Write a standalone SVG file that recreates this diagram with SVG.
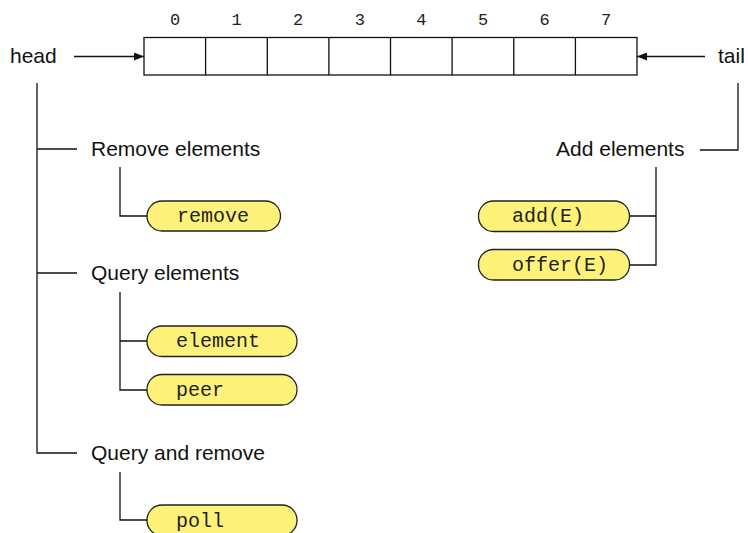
<svg xmlns="http://www.w3.org/2000/svg" width="748" height="533" viewBox="0 0 748 533">
<style>
.ln{fill:none;stroke:#111;stroke-width:1.3}
.sans{font-family:"Liberation Sans",Arial,sans-serif;font-size:21px;fill:#111}
.mono{font-family:"Liberation Mono","Courier New",monospace;fill:#222}
.idx{font-size:17px;text-anchor:middle}
.pill rect{fill:#FFF27A;stroke:#222;stroke-width:1.3}
.pill text{font-size:20px}
.cell{fill:#fff;stroke:#111;stroke-width:1.3}
</style>
<defs>
<marker id="ah" viewBox="0 0 10 8" refX="10" refY="4" markerWidth="10" markerHeight="8" markerUnits="userSpaceOnUse" orient="auto">
<path d="M0,0 L10,4 L0,8 z" fill="#111"/>
</marker>
</defs>
<g id="array">
<rect class="cell" x="144" y="37.5" width="493" height="37.5"/>
<path class="ln" d="M205.6,37.5V75M267.3,37.5V75M328.9,37.5V75M390.5,37.5V75M452.1,37.5V75M513.8,37.5V75M575.4,37.5V75"/>
<g class="mono idx">
<text x="175" y="25">0</text>
<text x="236.6" y="25">1</text>
<text x="298.2" y="25">2</text>
<text x="359.8" y="25">3</text>
<text x="421.4" y="25">4</text>
<text x="483" y="25">5</text>
<text x="544.6" y="25">6</text>
<text x="606.2" y="25">7</text>
</g>
</g>
<g id="head"><text class="sans" x="10" y="63">head</text></g>
<g id="tail"><text class="sans" x="718" y="63">tail</text></g>
<g id="remove-elements"><text class="sans" x="91" y="156">Remove elements</text></g>
<g id="query-elements"><text class="sans" x="91" y="280">Query elements</text></g>
<g id="query-and-remove"><text class="sans" x="91" y="460">Query and remove</text></g>
<g id="add-elements"><text class="sans" x="556" y="156">Add elements</text></g>
<g id="remove" class="pill"><rect x="147" y="201" width="133.5" height="30" rx="15"/><text class="mono" x="177" y="222">remove</text></g>
<g id="element" class="pill"><rect x="147" y="326" width="150" height="30.5" rx="15"/><text class="mono" x="176" y="347">element</text></g>
<g id="peer" class="pill"><rect x="147" y="374.5" width="150" height="30.5" rx="15"/><text class="mono" x="176" y="396">peer</text></g>
<g id="poll" class="pill"><rect x="147" y="505" width="150" height="30.5" rx="15"/><text class="mono" x="176" y="527">poll</text></g>
<g id="add" class="pill"><rect x="478.5" y="201" width="151" height="30.5" rx="15"/><text class="mono" x="512" y="222">add(E)</text></g>
<g id="offer" class="pill"><rect x="478.5" y="249.5" width="151" height="30.5" rx="15"/><text class="mono" x="512" y="271">offer(E)</text></g>
<g id="connectors">
<path class="ln" d="M74,56.5H144" marker-end="url(#ah)"/>
<path class="ln" d="M705,56.5H637" marker-end="url(#ah)"/>
<path class="ln" d="M37,83V453H77M37,149H77M37,273H77"/>
<path class="ln" d="M120,167V216H147"/>
<path class="ln" d="M120,292V390H147M120,341H147"/>
<path class="ln" d="M120,472V520H147"/>
<path class="ln" d="M738,83V150H700"/>
<path class="ln" d="M656,167V265H629.5M656,216H629.5"/>
</g>
</svg>
